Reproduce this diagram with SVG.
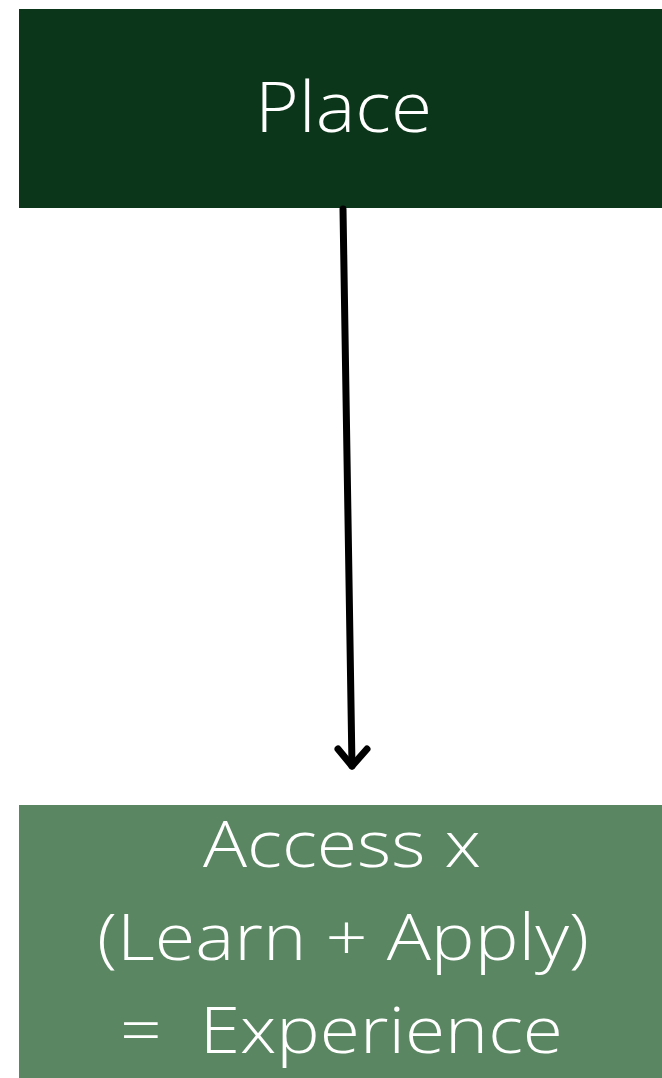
<svg xmlns="http://www.w3.org/2000/svg" width="662" height="1078" viewBox="0 0 662 1078">
<style>
.lbl{font-family:"Open Sans","Liberation Sans",sans-serif;font-weight:300;fill:#ffffff;text-anchor:middle}
.conn{stroke:#000;stroke-width:7;stroke-linecap:round;stroke-linejoin:round;fill:none}
</style>
<rect width="662" height="1078" fill="#ffffff"/>
<g id="place">
<rect x="19" y="9" width="643" height="199" fill="#0b3619"/>
<text class="lbl" x="343.5" y="132" font-size="70" textLength="177" lengthAdjust="spacingAndGlyphs">Place</text>
</g>
<g id="experience">
<rect x="19" y="805" width="643" height="273" fill="#5a8662"/>
<text class="lbl" x="342" y="867" font-size="64" textLength="278" lengthAdjust="spacingAndGlyphs">Access x</text>
<text class="lbl" x="343" y="960" font-size="64" textLength="492" lengthAdjust="spacingAndGlyphs">(Learn + Apply)</text>
<text class="lbl" x="341.5" y="1053" font-size="64" xml:space="preserve" textLength="443" lengthAdjust="spacingAndGlyphs">=  Experience</text>
</g>
<g id="connectors">
<line class="conn" x1="343" y1="209" x2="352" y2="766"/>
<polyline class="conn" points="338,749 352,766 367,749"/>
</g>
</svg>
